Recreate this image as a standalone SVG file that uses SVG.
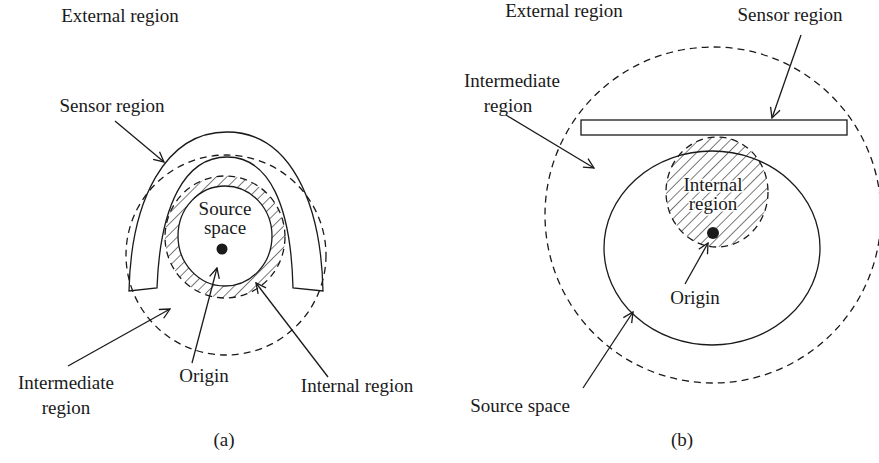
<svg xmlns="http://www.w3.org/2000/svg" width="879" height="463" viewBox="0 0 879 463">
<style>
text{font-family:"Liberation Serif","Times New Roman",serif;font-size:19px;fill:#1a1a1a;text-anchor:middle}
.in{paint-order:stroke;stroke:#fff;stroke-width:3px;stroke-linejoin:round}
.s{fill:none;stroke:#1a1a1a;stroke-width:1.3}
.d{fill:none;stroke:#1a1a1a;stroke-width:1.3;stroke-dasharray:7 5}
.w{fill:#fff;stroke:#1a1a1a;stroke-width:1.3}
.a{fill:none;stroke:#1a1a1a;stroke-width:1.3;marker-end:url(#ar)}
.dot{fill:#1a1a1a}
</style>
<defs>
<marker id="ar" viewBox="0 0 12 12" refX="11" refY="6" markerWidth="12" markerHeight="12" markerUnits="userSpaceOnUse" orient="auto">
<path d="M1,1 L11,6 L1,11" fill="none" stroke="#1a1a1a" stroke-width="1.3"/>
</marker>
<pattern id="h" patternUnits="userSpaceOnUse" width="7.5" height="7.5" patternTransform="rotate(45)">
<line x1="0" y1="0" x2="0" y2="7.5" stroke="#333" stroke-width="1.3"/>
</pattern>
</defs>
<rect width="879" height="463" fill="#fff"/>

<g id="panel-a">
<g id="a-intermediate"><circle class="d" cx="226" cy="255" r="100"/></g>
<g id="a-internal">
<ellipse cx="225" cy="237" rx="60" ry="61" fill="url(#h)"/>
<ellipse class="d" cx="225" cy="237" rx="60" ry="61"/>
</g>
<g id="a-source">
<ellipse class="w" cx="225" cy="236" rx="47" ry="50"/>
<text class="in" x="225" y="215">Source</text>
<text class="in" x="225" y="234">space</text>
</g>
<g id="a-sensor">
<path class="s" d="M129,291 C131,200 165,132 227,132 C289,132 321,200 323,291 L293,288 C291,205 269,157 227,157 C185,157 160,205 157,288 Z"/>
</g>
<g id="a-origin"><circle class="dot" cx="222" cy="249" r="5.5"/></g>
<g id="a-labels">
<text x="120" y="22">External region</text>
<text x="112" y="112">Sensor region</text>
<text x="66" y="389">Intermediate</text>
<text x="66" y="414">region</text>
<text x="204" y="382">Origin</text>
<text x="357" y="392">Internal region</text>
<text x="224" y="446">(a)</text>
</g>
</g>

<g id="panel-b">
<g id="b-intermediate"><circle class="d" cx="713" cy="215" r="168"/></g>
<g id="b-sensor"><rect class="w" x="581" y="120" width="266" height="15"/></g>
<g id="b-internal">
<ellipse cx="717" cy="192" rx="51" ry="55" fill="url(#h)"/>
<ellipse class="d" cx="717" cy="192" rx="51" ry="55"/>
</g>
<g id="b-source"><ellipse class="s" cx="712" cy="248" rx="108" ry="97"/></g>
<g id="b-internal-label">
<text class="in" x="713" y="191">Internal</text>
<text class="in" x="713" y="210">region</text>
</g>
<g id="b-origin"><circle class="dot" cx="713" cy="233" r="6"/></g>
<g id="b-labels">
<text x="564" y="17">External region</text>
<text x="790" y="21">Sensor region</text>
<text x="512" y="87">Intermediate</text>
<text x="508" y="112">region</text>
<text x="695" y="304">Origin</text>
<text x="520" y="412">Source space</text>
<text x="682" y="446">(b)</text>
</g>
</g>

<g id="connectors">
<line class="a" x1="115" y1="121" x2="164" y2="162"/>
<line class="a" x1="68" y1="366" x2="170" y2="309"/>
<line class="a" x1="192" y1="363" x2="217" y2="268"/>
<line class="a" x1="328" y1="377" x2="256" y2="283"/>
<line class="a" x1="801" y1="35" x2="772" y2="118"/>
<line class="a" x1="506" y1="115" x2="594" y2="168"/>
<line class="a" x1="685" y1="284" x2="708" y2="243"/>
<line class="a" x1="583" y1="388" x2="633" y2="312"/>
</g>
</svg>
